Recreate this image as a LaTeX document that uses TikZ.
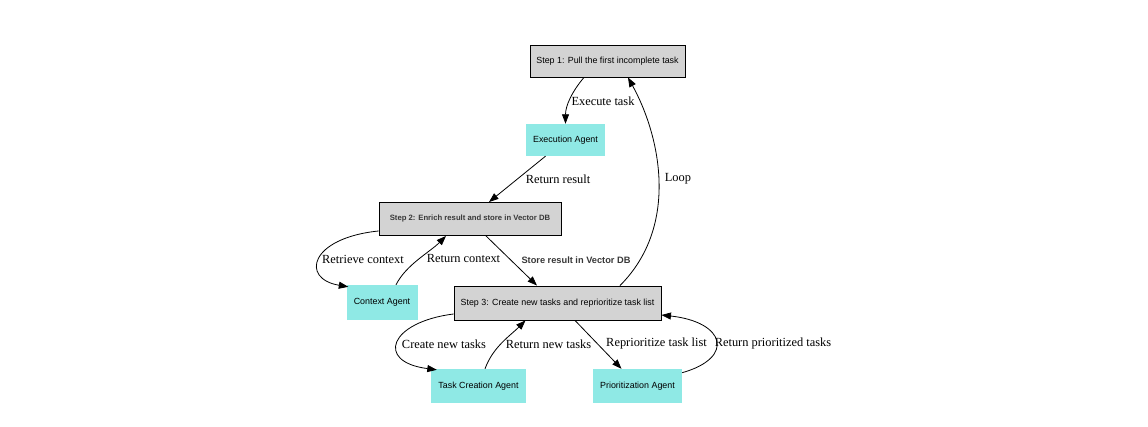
\documentclass[tikz,border=0pt]{standalone}
\usepackage{fontspec}
\setmainfont{Liberation Serif}
\newfontfamily\arialfont{Liberation Sans}
\usetikzlibrary{arrows.meta,calc}
\definecolor{stepgray}{RGB}{211,211,211}
\definecolor{agentcyan}{RGB}{143,233,229}
\definecolor{darktext}{RGB}{55,55,55}
\tikzset{
  stepbox/.style={draw=black, line width=0.9pt, fill=stepgray, inner sep=0pt, font=\arialfont\fontsize{8.9}{10}\selectfont},
  agentbox/.style={fill=agentcyan, inner sep=0pt, font=\arialfont\fontsize{8.9}{10}\selectfont},
  lbl/.style={inner sep=0pt, font=\fontsize{12.4}{14}\selectfont},
  conn/.style={line width=0.8pt, -{Triangle[length=9.5pt,width=7pt]}},
}
\begin{document}
\begin{tikzpicture}[x=1pt,y=-1pt]
\useasboundingbox (0,0) rectangle (1148,427);
% nodes
\node[stepbox, minimum width=155pt, minimum height=32pt] (s1) at (607.5,61) {Step 1: Pull the first incomplete task};
\node[agentbox, minimum width=79pt, minimum height=32pt] (ea) at (565.5,140) {Execution Agent};
\node[stepbox, minimum width=182pt, minimum height=33pt, font=\arialfont\bfseries\fontsize{7.7}{9}\selectfont, text=darktext] (s2) at (470,219) {Step 2: Enrich result and store in Vector DB};
\node[agentbox, minimum width=71pt, minimum height=35pt] (ca) at (382,302.5) {Context Agent};
\node[stepbox, minimum width=207pt, minimum height=34pt] (s3) at (557.5,303) {Step 3: Create new tasks and reprioritize task list};
\node[agentbox, minimum width=95pt, minimum height=34pt] (tca) at (478.5,386) {Task Creation Agent};
\node[agentbox, minimum width=89pt, minimum height=34pt] (pa) at (637.5,386) {Prioritization Agent};
% connectors
\draw[conn] ([xshift=-23.5pt]s1.south) .. controls +(-12,14) and +(0,-18) .. (ea.north);
\draw[conn] ([xshift=-20pt]ea.south) -- ([xshift=19pt]s2.north);
\draw[conn] ([yshift=-12pt]s2.west) .. controls +(-69,7) and +(-48,-8) .. ([xshift=2pt,yshift=-2pt]ca.north west);
\draw[conn] ([xshift=14pt]ca.north) .. controls +(10,-20) and +(-16,16) .. ([xshift=-24pt]s2.south);
\draw[conn] ([xshift=16pt]s2.south) -- ([xshift=-20.5pt]s3.north);
\draw[conn] ([xshift=62.5pt]s3.north) .. controls +(60,-60) and +(32,58) .. ([xshift=20.5pt]s1.south);
\draw[conn] ([yshift=-11pt]s3.west) .. controls +(-64,8) and +(-62,-8) .. ([xshift=6pt,yshift=-1pt]tca.north west);
\draw[conn] ([xshift=6.5pt]tca.north) .. controls +(8,-22) and +(-15,15) .. ([xshift=-32pt]s3.south);
\draw[conn] ([xshift=17.5pt]s3.south) -- ([xshift=-16pt]pa.north);
\draw[conn] ([yshift=13.3pt]pa.east) .. controls +(53,-15) and +(64,7) .. ([yshift=-12pt]s3.east);
% labels
\node[lbl] (lexec) at (603,101) {Execute task};
\node[lbl] (lres) at (558,179) {Return result};
\node[lbl] (lloop) at (678,179) {Loop};
\node[lbl] (lretr) at (363,259) {Retrieve context};
\node[lbl] (lretc) at (463.5,259) {Return context};
\node[inner sep=0pt, font=\arialfont\bfseries\fontsize{9.25}{11}\selectfont, text=darktext] (lstore) at (576,260) {Store result in Vector DB};
\node[lbl] (lcreate) at (444,344) {Create new tasks};
\node[lbl] (lretn) at (548.5,344) {Return new tasks};
\node[lbl] (lrepr) at (656.5,344) {Reprioritize task list};
\node[lbl] (lretp) at (773,344) {Return prioritized tasks};
\end{tikzpicture}
\end{document}
